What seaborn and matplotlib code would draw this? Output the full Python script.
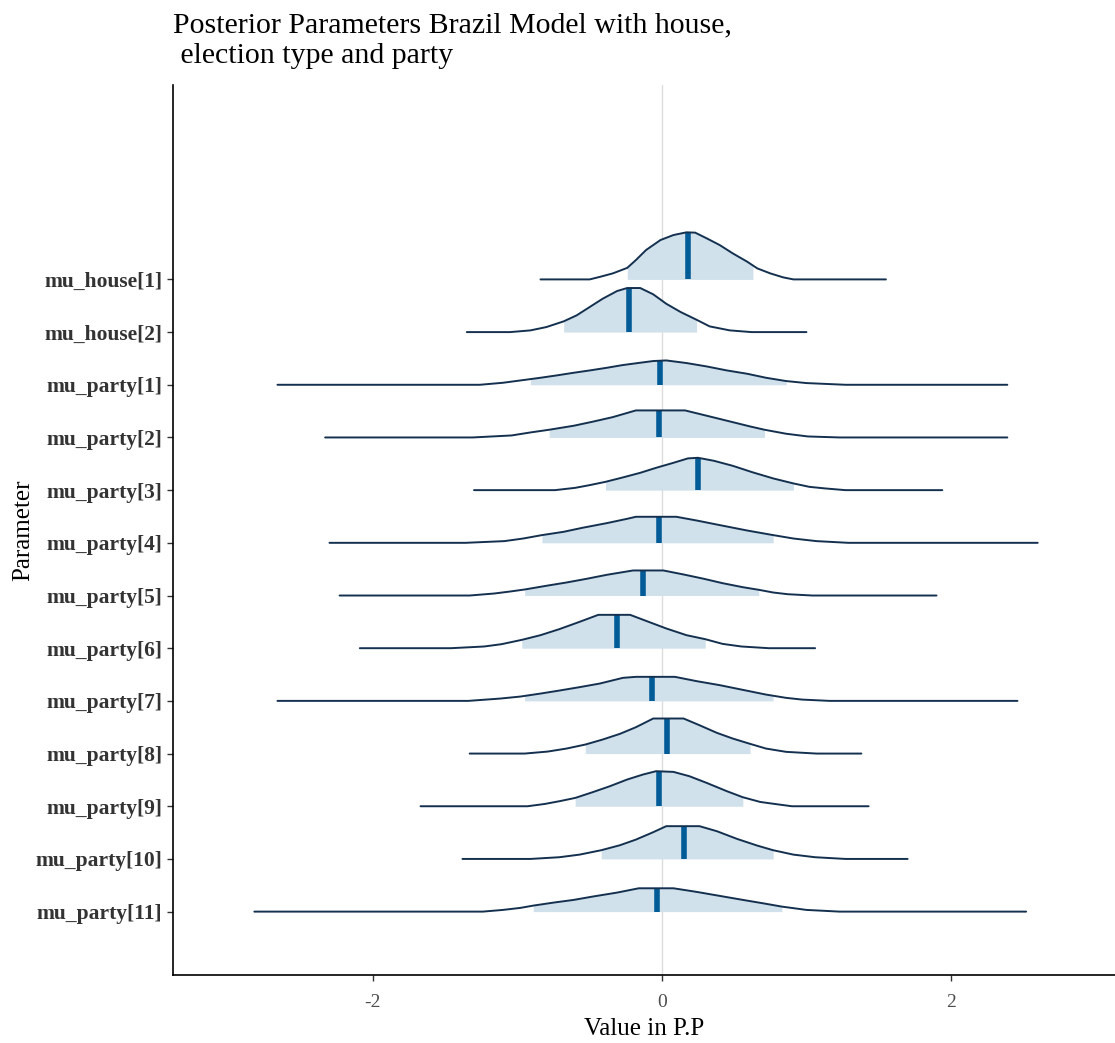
import numpy as np
import pandas as pd
import matplotlib
matplotlib.use("Agg")
import matplotlib.pyplot as plt
import seaborn as sns

# ---- posterior summaries (value in P.P) ----
params = ["mu_house[1]", "mu_house[2]", "mu_party[1]", "mu_party[2]",
          "mu_party[3]", "mu_party[4]", "mu_party[5]", "mu_party[6]",
          "mu_party[7]", "mu_party[8]", "mu_party[9]", "mu_party[10]",
          "mu_party[11]"]

medians = [0.178, -0.226, -0.014, -0.021, 0.247, -0.021, -0.129, -0.314,
           -0.067, 0.032, -0.021, 0.155, -0.037]

# shaded (inner) credible interval
inner_lo = [-0.24, -0.68, -0.91, -0.78, -0.39, -0.83, -0.95, -0.97, -0.95, -0.53, -0.60, -0.42, -0.89]
inner_hi = [0.63, 0.24, 0.86, 0.71, 0.91, 0.77, 0.67, 0.30, 0.77, 0.61, 0.56, 0.77, 0.83]

# full range of the draws
range_lo = [-0.84, -1.35, -2.66, -2.33, -1.30, -2.30, -2.23, -2.09, -2.66, -1.33, -1.67, -1.38, -2.82]
range_hi = [1.55, 1.00, 2.39, 2.39, 1.94, 2.60, 1.90, 1.06, 2.46, 1.38, 1.43, 1.70, 2.52]

# ---- density curves (relative density heights) ----
x_house_1 = [-0.50, -0.43, -0.34, -0.24, -0.18, -0.11, -0.01, 0.08, 0.17, 0.23, 0.31, 0.40, 0.49, 0.59, 0.66, 0.75, 0.84, 0.91]
d_house_1 = [0, 2.5, 6.0, 11.5, 19.3, 29.3, 39.3, 44.3, 47.0, 46.7, 41.0, 34.3, 26.0, 17.7, 11.0, 6.0, 2.0, 0]

x_house_2 = [-1.05, -0.91, -0.80, -0.68, -0.59, -0.50, -0.41, -0.31, -0.24, -0.15, -0.06, 0.03, 0.13, 0.24, 0.33, 0.47, 0.62]
d_house_2 = [0, 1.7, 5.0, 10.7, 16.7, 25.0, 33.3, 41.0, 44.0, 44.0, 37.7, 28.3, 20.0, 12.3, 5.7, 1.7, 0]

x_party_1 = [-1.26, -1.10, -0.98, -0.84, -0.73, -0.61, -0.50, -0.38, -0.27, -0.15, -0.06, 0.03, 0.17, 0.31, 0.45, 0.59, 0.72, 0.86, 1.00, 1.27]
d_party_1 = [0, 2.0, 4.3, 7.0, 9.3, 12.0, 14.3, 17.0, 19.7, 22.0, 23.7, 24.3, 21.7, 18.3, 14.3, 11.0, 7.0, 3.7, 1.7, 0]

x_party_2 = [-1.31, -1.04, -0.91, -0.78, -0.61, -0.48, -0.34, -0.18, 0.16, 0.31, 0.47, 0.61, 0.71, 0.86, 1.01, 1.23]
d_party_2 = [0, 2.0, 5.0, 7.7, 11.7, 15.7, 20.3, 27.0, 27.0, 21.7, 16.0, 11.0, 7.7, 3.7, 1.0, 0]

x_party_3 = [-0.74, -0.60, -0.50, -0.39, -0.27, -0.15, -0.04, 0.08, 0.18, 0.25, 0.36, 0.49, 0.63, 0.77, 0.91, 1.02, 1.13, 1.27]
d_party_3 = [0, 2.3, 5.0, 8.3, 12.7, 17.3, 22.3, 27.3, 31.7, 32.3, 29.3, 24.3, 17.7, 11.7, 6.7, 3.3, 1.7, 0]

x_party_4 = [-1.36, -1.09, -0.96, -0.83, -0.68, -0.55, -0.38, -0.24, -0.18, 0.10, 0.24, 0.40, 0.59, 0.77, 0.91, 1.07, 1.29]
d_party_4 = [0, 1.7, 4.3, 7.7, 11.0, 15.0, 19.7, 24.0, 26.0, 26.0, 22.3, 17.7, 12.3, 7.7, 4.3, 1.7, 0]

x_party_5 = [-1.33, -1.16, -1.05, -0.95, -0.80, -0.66, -0.52, -0.38, -0.20, 0.01, 0.15, 0.29, 0.42, 0.56, 0.67, 0.77, 0.87, 1.04]
d_party_5 = [0, 2.0, 4.0, 6.0, 9.7, 13.0, 16.7, 20.7, 25.0, 25.0, 21.0, 16.7, 12.3, 8.3, 5.7, 3.0, 1.3, 0]

x_party_6 = [-1.46, -1.23, -1.11, -0.97, -0.84, -0.71, -0.57, -0.44, -0.22, -0.11, 0.03, 0.17, 0.30, 0.42, 0.55, 0.74]
d_party_6 = [0, 1.7, 4.0, 8.3, 13.0, 19.0, 26.3, 33.3, 33.3, 27.3, 19.7, 13.0, 9.0, 4.3, 1.7, 0]

x_party_7 = [-1.34, -1.12, -0.98, -0.84, -0.71, -0.57, -0.43, -0.27, -0.18, 0.09, 0.24, 0.40, 0.56, 0.72, 0.86, 0.97, 1.16]
d_party_7 = [0, 2.3, 4.3, 7.3, 10.3, 13.7, 17.3, 23.0, 24.0, 24.0, 19.7, 15.7, 11.0, 6.3, 3.0, 1.3, 0]

x_party_8 = [-0.95, -0.79, -0.66, -0.53, -0.41, -0.29, -0.18, -0.06, 0.15, 0.26, 0.38, 0.49, 0.61, 0.72, 0.86, 1.07]
d_party_8 = [0, 2.0, 5.0, 9.0, 14.0, 19.7, 26.3, 35.0, 35.0, 28.3, 20.7, 15.0, 9.7, 5.0, 1.7, 0]

x_party_9 = [-0.93, -0.81, -0.71, -0.60, -0.48, -0.36, -0.24, -0.13, -0.04, 0.08, 0.19, 0.31, 0.45, 0.56, 0.68, 0.78, 0.90]
d_party_9 = [0, 2.3, 5.0, 8.3, 14.0, 20.0, 26.7, 31.7, 35.0, 34.3, 30.0, 23.3, 15.0, 9.0, 4.3, 2.3, 0]

x_party_10 = [-0.91, -0.71, -0.57, -0.42, -0.29, -0.18, -0.06, 0.03, 0.26, 0.38, 0.52, 0.66, 0.77, 0.91, 1.06, 1.27]
d_party_10 = [0, 1.7, 4.3, 8.7, 13.7, 19.3, 26.7, 32.7, 32.7, 27.7, 20.0, 13.3, 8.7, 4.3, 1.7, 0]

x_party_11 = [-1.24, -1.10, -0.98, -0.89, -0.75, -0.61, -0.48, -0.31, -0.16, 0.08, 0.24, 0.40, 0.56, 0.70, 0.83, 1.00, 1.23]
d_party_11 = [0, 1.7, 3.7, 6.0, 9.0, 11.7, 15.0, 19.0, 23.3, 23.3, 19.7, 15.7, 11.7, 8.3, 5.0, 1.7, 0]

curve_x = [x_house_1, x_house_2, x_party_1, x_party_2, x_party_3, x_party_4, x_party_5,
           x_party_6, x_party_7, x_party_8, x_party_9, x_party_10, x_party_11]
curve_d = [d_house_1, d_house_2, d_party_1, d_party_2, d_party_3, d_party_4, d_party_5,
           d_party_6, d_party_7, d_party_8, d_party_9, d_party_10, d_party_11]

x_ticks = [-2, 0, 2]
x_tick_labels = ["-2", "0", "2"]

# ---- styling ----
sns.set_theme(style="ticks")
plt.rcParams["font.family"] = ["Liberation Serif", "DejaVu Serif"]

light = "#d1e1ec"
dark = "#14304f"
mid_hi = "#005b96"
ridge_scale = 1 / 52.6  # density units -> row spacing

fig = plt.figure(figsize=(11.15, 10.43), dpi=100)
ax = fig.add_axes([0.155, 0.0652, 0.845, 0.8533])

ax.axvline(0, color="#dcdcdc", lw=1.0, zorder=0)

n = len(params)
for i, name in enumerate(params):
    base = n - i  # top row first
    xs = np.array([range_lo[i]] + curve_x[i] + [range_hi[i]])
    hs = np.array([0.0] + curve_d[i] + [0.0]) * ridge_scale

    # shaded inner interval
    lo, hi = inner_lo[i], inner_hi[i]
    inside = (xs > lo) & (xs < hi)
    fx = np.concatenate([[lo], xs[inside], [hi]])
    fh = np.concatenate([[np.interp(lo, xs, hs)], hs[inside], [np.interp(hi, xs, hs)]])
    ax.fill_between(fx, base, base + fh, color=light, lw=0, zorder=1)

    # outline of the full density
    df = pd.DataFrame({"x": xs, "y": base + hs})
    sns.lineplot(data=df, x="x", y="y", ax=ax, color=dark, lw=1.4,
                 sort=False, estimator=None, zorder=3)

    # median bar
    mh = np.interp(medians[i], xs, hs)
    ax.plot([medians[i], medians[i]], [base, base + mh], color=mid_hi,
            lw=4.0, solid_capstyle="butt", zorder=2)

ax.set_xlim(-3.384, 3.135)
ax.set_ylim(-0.203, 16.69)
ax.set_yticks(list(range(n, 0, -1)))
ax.set_yticklabels(params, fontweight="bold", fontsize=15.5, color="#333333")
ax.set_xticks(x_ticks)
ax.set_xticklabels(x_tick_labels, fontsize=14, color="#4d4d4d")
ax.tick_params(axis="both", length=4, width=1, color="#333333")
ax.tick_params(axis="x", pad=10)
ax.set_xlabel("Value in P.P", fontsize=18, color="black", labelpad=5)
ax.set_ylabel("Parameter", fontsize=18, color="black", labelpad=1)
for s in ["top", "right"]:
    ax.spines[s].set_visible(False)
for s in ["left", "bottom"]:
    ax.spines[s].set_color("black")
    ax.spines[s].set_linewidth(1.2)

ax.set_title("Posterior Parameters Brazil Model with house,\n election type and party",
             loc="left", fontsize=21.5, color="black", pad=16, linespacing=1.22)

fig.savefig("out.png", dpi=100)
